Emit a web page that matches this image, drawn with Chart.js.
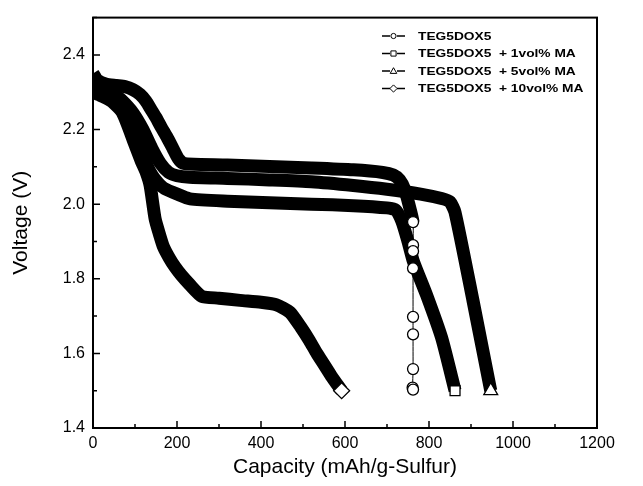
<!DOCTYPE html>
<html>
<head>
<meta charset="utf-8">
<script src="https://cdn.jsdelivr.net/npm/chart.js@4.4.0/dist/chart.umd.min.js"></script>
<style>
  html, body { margin: 0; padding: 0; background: #fff; }
  #wrap { width: 643px; height: 486px; }
</style>
</head>
<body>
<div id="wrap"><canvas id="chart" width="643" height="486"></canvas></div>
<script>
// discharge curves, values
const seriesNames = ['TEG5DOX5', 'TEG5DOX5  + 1vol% MA', 'TEG5DOX5  + 5vol% MA', 'TEG5DOX5  + 10vol% MA'];

// TEG5DOX5 (circles)
const capBase  = [0, 10, 30, 55, 76, 95, 112, 126, 138, 150, 163, 176, 190, 203, 214, 240, 320, 420, 520, 620, 690, 715, 730, 742, 752, 762, 762, 762, 762, 762, 762, 762, 761, 762];
const voltBase = [2.35, 2.333, 2.322, 2.318, 2.315, 2.307, 2.294, 2.276, 2.254, 2.232, 2.205, 2.18, 2.15, 2.122, 2.11, 2.107, 2.105, 2.101, 2.097, 2.092, 2.085, 2.078, 2.065, 2.04, 2.0, 1.952, 1.89, 1.874, 1.828, 1.698, 1.651, 1.558, 1.508, 1.503];

// + 1vol% MA (squares)
const cap1  = [0, 20, 45, 70, 90, 105, 118, 130, 142, 155, 170, 200, 231, 320, 420, 520, 620, 700, 720, 735, 750, 763, 794, 830, 862];
const volt1 = [2.32, 2.31, 2.295, 2.27, 2.235, 2.19, 2.14, 2.10, 2.075, 2.057, 2.042, 2.027, 2.014, 2.008, 2.004, 2.0, 1.996, 1.99, 1.985, 1.955, 1.9, 1.846, 1.757, 1.642, 1.50];

// + 5vol% MA (triangles)
const cap5  = [0, 20, 45, 67, 95, 119, 140, 160, 180, 200, 230, 320, 420, 520, 620, 700, 780, 830, 850, 862, 905, 947];
const volt5 = [2.33, 2.318, 2.30, 2.28, 2.245, 2.20, 2.15, 2.11, 2.085, 2.076, 2.072, 2.069, 2.065, 2.06, 2.05, 2.04, 2.027, 2.015, 2.006, 1.978, 1.74, 1.50];

// + 10vol% MA (diamonds)
const cap10  = [0, 20, 45, 70, 98, 115, 127, 136, 148, 158, 168, 182, 195, 210, 230, 259, 300, 350, 400, 437, 469, 495, 515, 533, 550, 567, 592];
const volt10 = [2.30, 2.29, 2.275, 2.245, 2.165, 2.115, 2.084, 2.05, 1.96, 1.92, 1.885, 1.855, 1.832, 1.81, 1.785, 1.753, 1.748, 1.742, 1.737, 1.73, 1.71, 1.67, 1.635, 1.60, 1.57, 1.54, 1.50];

const xTicks = [0, 200, 400, 600, 800, 1000, 1200];
const yTicks = [1.4, 1.6, 1.8, 2.0, 2.2, 2.4];

const BAND = 13;

function makeSet(label, caps, volts, style, radius, markFrom, thinFrom) {
    return {
        label: label,
        data: caps.map((c, i) => ({ x: c, y: volts[i] })),
        showLine: true,
        borderColor: '#000',
        borderWidth: BAND,
        borderJoinStyle: 'round',
        borderCapStyle: 'butt',
        tension: 0.2,
        clip: 0,
        pointStyle: style,
        pointRadius: ctx => ctx.dataIndex >= markFrom ? radius : 0,
        pointHoverRadius: 0,
        pointBackgroundColor: '#fff',
        pointBorderColor: '#000',
        pointBorderWidth: 1.3,
        segment: {
            borderWidth: ctx => ctx.p0DataIndex >= thinFrom ? 1 : BAND
        }
    };
}

const datasets = [
    makeSet(seriesNames[0], capBase, voltBase, 'circle', 5.5, 25, 25),
    makeSet(seriesNames[1], cap1, volt1, 'rect', 7, cap1.length - 1, Infinity),
    makeSet(seriesNames[2], cap5, volt5, 'triangle', 8, cap5.length - 1, Infinity),
    makeSet(seriesNames[3], cap10, volt10, 'rectRot', 8, cap10.length - 1, Infinity)
];

// small marker for the legend
function marker(ctx, style, x, y, r) {
    ctx.beginPath();
    if (style === 'circle') {
        ctx.arc(x, y, r, 0, Math.PI * 2);
    } else if (style === 'rect') {
        ctx.rect(x - r, y - r, 2 * r, 2 * r);
    } else if (style === 'triangle') {
        ctx.moveTo(x, y - r * 1.1);
        ctx.lineTo(x + r * 1.1, y + r * 0.8);
        ctx.lineTo(x - r * 1.1, y + r * 0.8);
        ctx.closePath();
    } else {
        ctx.moveTo(x, y - r * 1.2);
        ctx.lineTo(x + r * 1.2, y);
        ctx.lineTo(x, y + r * 1.2);
        ctx.lineTo(x - r * 1.2, y);
        ctx.closePath();
    }
    ctx.fillStyle = '#fff';
    ctx.fill();
    ctx.strokeStyle = '#000';
    ctx.lineWidth = 1;
    ctx.stroke();
}

// frame + inward tick marks
const frameTicks = {
    id: 'frameTicks',
    afterDatasetsDraw(chart) {
        const { ctx, chartArea: a, scales: { x, y } } = chart;
        ctx.save();
        ctx.strokeStyle = '#000';
        ctx.lineWidth = 2;
        ctx.strokeRect(a.left, a.top, a.right - a.left, a.bottom - a.top);
        ctx.lineWidth = 1.5;
        ctx.beginPath();
        xTicks.forEach((v, i) => {
            const px = x.getPixelForValue(v);
            ctx.moveTo(px, a.bottom); ctx.lineTo(px, a.bottom - 7);
            if (i < xTicks.length - 1) {
                const mx = x.getPixelForValue((v + xTicks[i + 1]) / 2);
                ctx.moveTo(mx, a.bottom); ctx.lineTo(mx, a.bottom - 4);
            }
        });
        yTicks.forEach((v, i) => {
            const py = y.getPixelForValue(v);
            ctx.moveTo(a.left, py); ctx.lineTo(a.left + 7, py);
            const next = i < yTicks.length - 1 ? yTicks[i + 1] : v + 0.2;
            const my = y.getPixelForValue((v + next) / 2);
            ctx.moveTo(a.left, my); ctx.lineTo(a.left + 4, my);
        });
        ctx.stroke();
        ctx.restore();
    }
};

// legend inside the plot, "-o- label" style
const legendBox = {
    id: 'legendBox',
    afterDraw(chart) {
        const ctx = chart.ctx;
        const rows = [36, 53.5, 71, 88.5];
        const small = { circle: 2.6, rect: 2.6, triangle: 3, rectRot: 3 };
        ctx.save();
        chart.data.datasets.forEach((ds, i) => {
            const y = rows[i];
            ctx.strokeStyle = '#000';
            ctx.lineWidth = 1.3;
            ctx.beginPath();
            ctx.moveTo(382, y); ctx.lineTo(390, y);
            ctx.moveTo(397, y); ctx.lineTo(405, y);
            ctx.stroke();
            marker(ctx, ds.pointStyle, 393.5, y, small[ds.pointStyle]);
            ctx.save();
            ctx.translate(418, y);
            ctx.scale(1.25, 1);
            ctx.fillStyle = '#000';
            ctx.font = 'bold 11px "Liberation Sans", Arial, sans-serif';
            ctx.textBaseline = 'middle';
            ctx.fillText(ds.label, 0, 0.5);
            ctx.restore();
        });
        ctx.restore();
    }
};

const tickFont = { family: '"Liberation Sans", Arial, sans-serif', size: 16 };
const titleFont = { family: '"Liberation Sans", Arial, sans-serif', size: 21 };

new Chart(document.getElementById('chart').getContext('2d'), {
    type: 'scatter',
    data: { datasets: datasets },
    options: {
        responsive: false,
        animation: false,
        events: [],
        layout: { padding: { top: 13, right: 46, left: 0, bottom: 0 } },
        plugins: { legend: { display: false }, tooltip: { enabled: false } },
        scales: {
            x: {
                type: 'linear',
                min: 0,
                max: 1200,
                afterBuildTicks: s => { s.ticks = xTicks.map(v => ({ value: v })); },
                afterFit: s => { s.height = 58; },
                grid: { display: false, drawTicks: false },
                border: { display: false },
                ticks: { color: '#000', font: tickFont, padding: 6, maxRotation: 0, callback: v => String(v) },
                title: { display: true, text: 'Capacity (mAh/g-Sulfur)', color: '#000', font: titleFont, padding: { top: 4, bottom: 6 } }
            },
            y: {
                type: 'linear',
                min: 1.4,
                max: 2.5,
                afterBuildTicks: s => { s.ticks = yTicks.map(v => ({ value: v })); },
                afterFit: s => { s.width = 93; },
                grid: { display: false, drawTicks: false },
                border: { display: false },
                ticks: { color: '#000', font: tickFont, padding: 8, callback: v => v.toFixed(1) },
                title: { display: true, text: 'Voltage (V)', color: '#000', font: titleFont, padding: { top: 9, bottom: 4 } }
            }
        }
    },
    plugins: [frameTicks, legendBox]
});
</script>
</body>
</html>
